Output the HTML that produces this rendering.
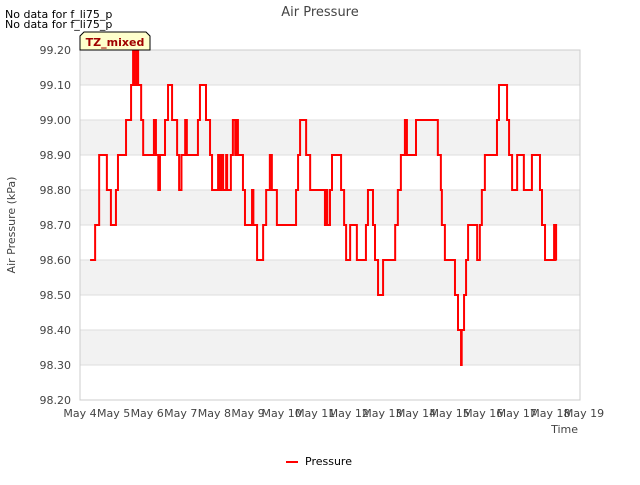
<!DOCTYPE html>
<html><head><meta charset="utf-8"><style>
body{margin:0;background:#fff;font-family:"Liberation Sans","DejaVu Sans",sans-serif}
svg text{font-family:"DejaVu Sans","Liberation Sans",sans-serif}
</style></head><body>
<svg id="c" width="640" height="480" xmlns="http://www.w3.org/2000/svg">
<rect width="640" height="480" fill="#fff"/>
<text x="5" y="18" font-size="11" fill="#000">No data for f_li75_p</text>
<text x="5" y="28" font-size="11" fill="#000">No data for f_li75_p</text>
<text x="320" y="16" font-size="13" fill="#444" text-anchor="middle">Air Pressure</text>
<g id="bands"></g>
<g id="yaxis"></g>
<g id="xaxis"></g>
<rect x="80" y="50" width="500" height="350" fill="none" stroke="#ccc"/>
<path id="line" fill="none" stroke="#ff0000" stroke-width="2"/>
<text x="15" y="225" font-size="11" fill="#444" text-anchor="middle" transform="rotate(-90 15 225)">Air Pressure (kPa)</text>
<text x="578" y="433" font-size="11" fill="#444" text-anchor="end">Time</text>
<g>
<path d="M80,50 L80,36 L84,32 L146,32 L150,36 L150,50 Z" fill="#ffffcc" stroke="#000" stroke-width="1"/>
<text x="115" y="46" font-size="11" font-weight="bold" fill="#a00000" text-anchor="middle">TZ_mixed</text>
</g>
<g>
<line x1="286" y1="462" x2="298" y2="462" stroke="#ff0000" stroke-width="2"/>
<text x="305" y="465" font-size="11" fill="#000">Pressure</text>
</g>
</svg>
<script>
const yTicks=[98.2,98.3,98.4,98.5,98.6,98.7,98.8,98.9,99.0,99.1,99.2];
const xTickLabels=["May 4","May 5","May 6","May 7","May 8","May 9","May 10","May 11","May 12","May 13","May 14","May 15","May 16","May 17","May 18","May 19"];
const times=[0.30,0.45,0.57,0.80,0.92,1.07,1.13,1.37,1.52,1.58,1.62,1.68,1.73,1.82,1.88,2.20,2.26,2.33,2.38,2.53,2.62,2.74,2.89,2.95,3.02,3.13,3.18,3.51,3.57,3.75,3.87,3.93,4.11,4.14,4.20,4.26,4.35,4.38,4.49,4.55,4.62,4.65,4.70,4.85,4.91,5.12,5.16,5.27,5.45,5.54,5.65,5.71,5.86,6.43,6.49,6.55,6.73,6.85,7.29,7.33,7.36,7.44,7.50,7.77,7.86,7.92,8.04,8.24,8.51,8.57,8.72,8.78,8.87,9.02,9.38,9.46,9.55,9.67,9.73,10.00,10.65,10.74,10.77,10.86,11.16,11.25,11.34,11.36,11.43,11.49,11.55,11.82,11.90,11.96,12.05,12.41,12.47,12.71,12.77,12.86,13.01,13.21,13.45,13.69,13.75,13.84,14.11,14.17];
const pressure=[98.6,98.7,98.9,98.8,98.7,98.8,98.9,99.0,99.1,99.2,99.1,99.2,99.1,99.0,98.9,99.0,98.9,98.8,98.9,99.0,99.1,99.0,98.9,98.8,98.9,99.0,98.9,99.0,99.1,99.0,98.9,98.8,98.9,98.8,98.9,98.8,98.9,98.8,98.9,99.0,98.9,99.0,98.9,98.8,98.7,98.8,98.7,98.6,98.7,98.8,98.9,98.8,98.7,98.8,98.9,99.0,98.9,98.8,98.7,98.8,98.7,98.8,98.9,98.8,98.7,98.6,98.7,98.6,98.7,98.8,98.7,98.6,98.5,98.6,98.7,98.8,98.9,99.0,98.9,99.0,98.9,98.8,98.7,98.6,98.5,98.4,98.3,98.4,98.5,98.6,98.7,98.6,98.7,98.8,98.9,99.0,99.1,99.0,98.9,98.8,98.9,98.8,98.9,98.8,98.7,98.6,98.7,98.6];
const NS="http://www.w3.org/2000/svg";
const X0=80,DAY=33.6,Y0=400,YMIN=98.2,YPX=350;
function sx(d){return X0+d*DAY;}
function sy(v){return Y0-(v-YMIN)*YPX;}
function mk(tag,attrs,parent){const e=document.createElementNS(NS,tag);for(const k in attrs)e.setAttribute(k,attrs[k]);parent.appendChild(e);return e;}
const bands=document.getElementById('bands');
for(let i=0;i<yTicks.length-1;i++){
  if(i%2===1){const r=mk('rect',{x:80,y:sy(yTicks[i+1]),width:500,height:sy(yTicks[i])-sy(yTicks[i+1]),fill:'#f2f2f2'},bands);
  
  }
}
const ya=document.getElementById('yaxis');
yTicks.forEach(v=>{
  const l=mk('line',{x1:80,x2:580,y1:sy(v),y2:sy(v),stroke:'#dddddd'},ya);
  
  
  const t=mk('text',{x:71,y:sy(v)+4,'font-size':11,fill:'#444','text-anchor':'end'},ya);
  t.textContent=v.toFixed(2);
  
  
});
const xa=document.getElementById('xaxis');
xTickLabels.forEach((s,i)=>{
  const t=mk('text',{x:sx(i),y:417,'font-size':11,fill:'#444','text-anchor':'middle'},xa);
  t.textContent=s;
  
  
});
let d='';
for(let i=0;i<times.length;i++){
  const x=sx(times[i]),y=sy(pressure[i]);
  if(i===0)d+='M'+x+','+y;else d+=' L'+x+','+sy(pressure[i-1])+' L'+x+','+y;
}
d+=' L'+(sx(times[times.length-1])+0.5)+','+sy(pressure[pressure.length-1]);
document.getElementById('line').setAttribute('d',d);
</script>
</body></html>
